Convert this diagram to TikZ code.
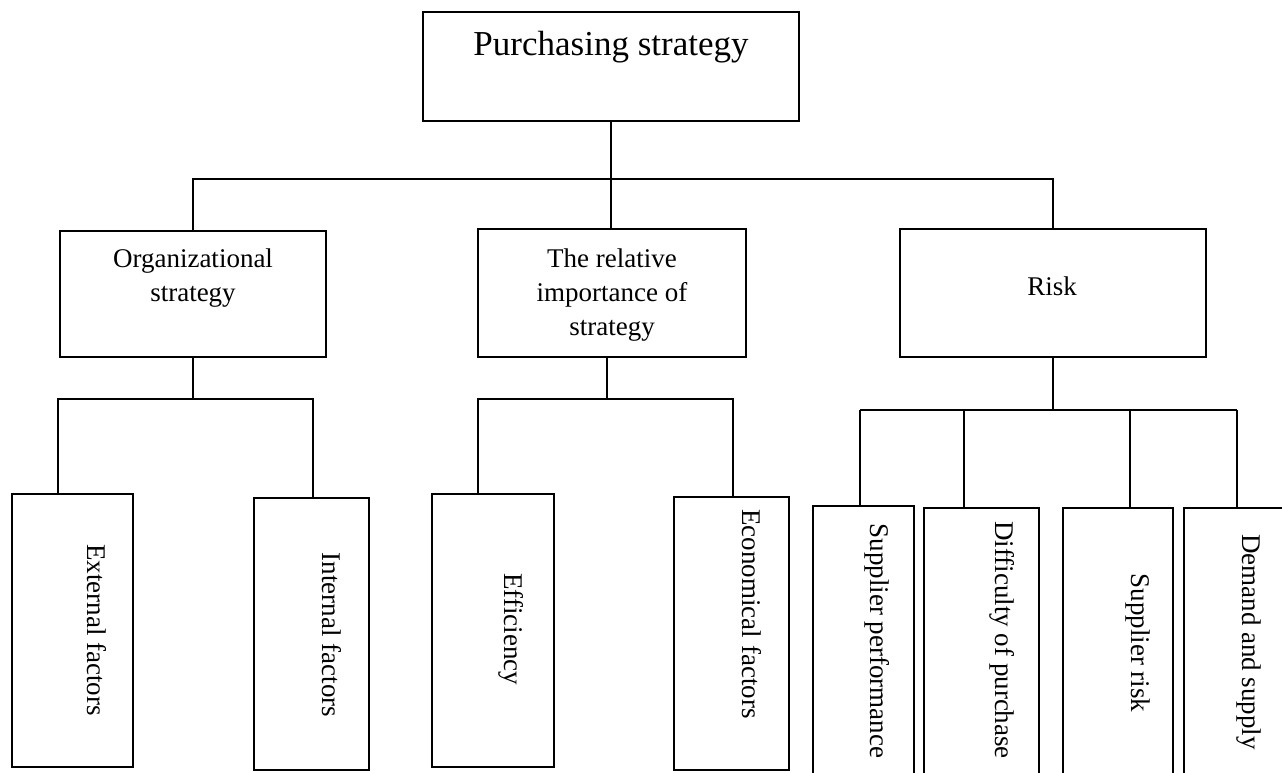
\documentclass[tikz,border=0pt]{standalone}
\usepackage{fontspec}
\setmainfont{Liberation Serif}
\begin{document}
\begin{tikzpicture}[x=1pt,y=-1pt,
  box/.style 2 args={draw=black, line width=1.8pt, rectangle, inner sep=0pt, minimum width=#1pt, minimum height=#2pt},
  txt/.style={font=\fontsize{27}{34}\selectfont, inner sep=0pt, align=center},
  ttl/.style={font=\fontsize{35}{42}\selectfont, inner sep=0pt},
  vtxt/.style={font=\fontsize{27}{34}\selectfont, inner sep=0pt, rotate=-90},
  link/.style={draw=black, line width=1.8pt}]
\useasboundingbox (0,0) rectangle (1282,772);
\fill[white] (0,0) rectangle (1282,772);
\clip (0,0) rectangle (1282,772);
% boxes
\node[box={376}{109}] (top) at (611,66.5) {};
\node[box={266}{126}] (org) at (193,294) {};
\node[box={268}{128}] (mid) at (612,293) {};
\node[box={306}{128}] (risk) at (1053,293) {};
\node[box={121}{273}] (ext) at (72.5,630.5) {};
\node[box={115}{272}] (int) at (311.5,634) {};
\node[box={122}{273}] (eff) at (493,630.5) {};
\node[box={115}{273}] (econ) at (731.5,633.5) {};
\node[box={101}{294}] (sp) at (863.5,653) {};
\node[box={115}{292}] (dp) at (981.5,654) {};
\node[box={110}{292}] (sr) at (1118,654) {};
\node[box={116}{292}] (ds) at (1242,654) {};
% texts
\node[ttl, anchor=base] (ttop) at (611,55) {Purchasing strategy};
\node[txt] (torg) at (193,278) {Organizational\\strategy};
\node[txt] (tmid) at (612,295) {The relative\\importance of\\strategy};
\node[txt, anchor=base] (trisk) at (1052,295) {Risk};
\node[vtxt] (text) at (97,630) {External factors};
\node[vtxt] (tint) at (332,635) {Internal factors};
\node[vtxt] (teff) at (511,629) {Efficiency};
\node[vtxt] (tecon) at (752,614) {Economical factors};
\node[vtxt] (tsp) at (877.5,641) {Supplier performance};
\node[vtxt] (tdp) at (1002,640) {Difficulty of purchase};
\node[vtxt] (tsr) at (1137.5,643) {Supplier risk};
\node[vtxt] (tds) at (1249,642) {Demand and supply};
% level 1 connectors
\coordinate (busL) at (193,179);
\coordinate (busR) at (1053,179);
\draw[link] (top.south) -- (top.south |- mid.north);
\draw[link] (org.north) -- (busL) -- (busR) -- (risk.north);
% organizational branch
\coordinate (oL) at (58,399);
\coordinate (oR) at (313,399);
\draw[link] (org.south) -- (org.south |- oL);
\draw[link] (oL |- ext.north) -- (oL) -- (oR) -- (oR |- int.north);
% middle branch
\coordinate (mC) at (607,399);
\coordinate (mL) at (478,399);
\coordinate (mR) at (733,399);
\draw[link] (mC |- mid.south) -- (mC);
\draw[link] (mL |- eff.north) -- (mL) -- (mR) -- (mR |- econ.north);
% risk branch
\coordinate (r1) at (860,410);
\coordinate (r2) at (964,410);
\coordinate (r3) at (1130,410);
\coordinate (r4) at (1237,410);
\draw[link] (risk.south) -- (risk.south |- r1);
\draw[link] (r1) -- (r4);
\draw[link] (r1) -- (r1 |- sp.north);
\draw[link] (r2) -- (r2 |- dp.north);
\draw[link] (r3) -- (r3 |- sr.north);
\draw[link] (r4) -- (r4 |- ds.north);
\end{tikzpicture}
\end{document}
